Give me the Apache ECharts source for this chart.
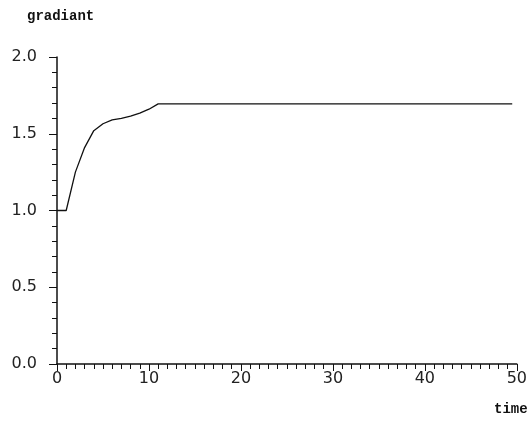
<!DOCTYPE html>
<html>
<head>
<meta charset="utf-8">
<script src="https://cdn.jsdelivr.net/npm/echarts@6/dist/echarts.min.js"></script>
<style>
  html, body { margin: 0; padding: 0; background: #fff; }
  #chart { width: 530px; height: 424px; }
</style>
</head>
<body>
<div id="chart"></div>
<script>
// time values (x) and gradiant values (y)
var times = [0, 1, 2, 3, 4, 5, 6, 7, 8, 9, 10, 11, 15, 20, 25, 30, 35, 40, 45, 49.5];
var gradiant = [1.0, 1.0, 1.25, 1.41, 1.52, 1.565, 1.59, 1.60, 1.615, 1.635, 1.66, 1.695,
  1.695, 1.695, 1.695, 1.695, 1.695, 1.695, 1.695, 1.695];

var chart = echarts.init(document.getElementById('chart'));

// 点对
var points = times.map(function (t, i) { return [t, gradiant[i]]; });

var labelStyle = { color: '#222', fontFamily: 'DejaVu Sans', fontSize: 16 };
var axisLine = { show: true, lineStyle: { color: '#111', width: 1.5 } };

chart.setOption({
  animation: false,
  backgroundColor: '#fff',
  grid: { left: 57, right: 7, top: 57, bottom: 60 },
  xAxis: {
    type: 'value',
    min: 0, max: 50, interval: 10,
    axisLine: axisLine,
    axisTick: { inside: false, length: 7, lineStyle: { color: '#111' } },
    minorTick: { show: true, splitNumber: 10, length: 5, lineStyle: { color: '#111' } },
    axisLabel: Object.assign({ margin: 7 }, labelStyle),
    splitLine: { show: false }
  },
  yAxis: {
    type: 'value',
    min: 0, max: 2, interval: 0.5,
    axisLine: axisLine,
    axisTick: { inside: false, length: 8, lineStyle: { color: '#111' } },
    minorTick: { show: true, splitNumber: 5, length: 5, lineStyle: { color: '#111' } },
    axisLabel: Object.assign({ margin: 20, formatter: function (v) { return v.toFixed(1); } }, labelStyle),
    splitLine: { show: false }
  },
  graphic: [
    { type: 'text', left: 27, top: 9,
      style: { text: 'gradiant', font: 'bold 14px "Liberation Mono"', fill: '#111' } },
    { type: 'text', left: 494, top: 402,
      style: { text: 'time', font: 'bold 14px "Liberation Mono"', fill: '#111' } }
  ],
  series: [{
    type: 'line',
    data: points,
    showSymbol: false,
    lineStyle: { color: '#111', width: 1.3 }
  }]
});
</script>
</body>
</html>
